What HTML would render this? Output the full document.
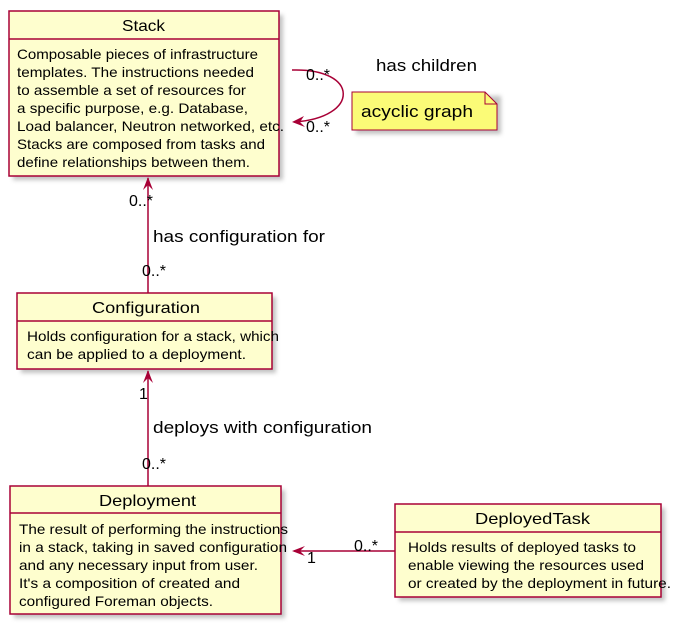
<!DOCTYPE html>
<html><head><meta charset="utf-8"><style>
html,body{margin:0;padding:0;background:#fff;}
svg{display:block;font-family:"Liberation Sans",sans-serif;}
</style></head><body>
<svg width="689" height="631" viewBox="0 0 689 631" xmlns="http://www.w3.org/2000/svg">
<defs>
<filter id="sh" x="-10%" y="-10%" width="130%" height="130%"><feGaussianBlur stdDeviation="2"/></filter>
</defs>
<g fill="#999" opacity="0.6" filter="url(#sh)">
<rect x="13" y="15" width="270" height="165"/>
<rect x="21" y="297" width="255" height="76"/>
<rect x="14" y="490" width="271" height="128"/>
<rect x="399" y="508" width="266" height="93"/>
<rect x="356" y="96" width="145" height="38"/>
</g>
<g fill="#FEFECE" stroke="#A80036" stroke-width="1.5">
<rect x="9" y="11" width="270" height="165"/>
<line x1="9" y1="39" x2="279" y2="39"/>
<rect x="17" y="293" width="255" height="76"/>
<line x1="17" y1="321" x2="272" y2="321"/>
<rect x="10" y="486" width="271" height="128"/>
<line x1="10" y1="513" x2="281" y2="513"/>
<rect x="395" y="504" width="266" height="93"/>
<line x1="395" y1="532" x2="661" y2="532"/>
</g>
<path d="M352,92 L485,92 L497,104 L497,130 L352,130 Z" fill="#FBFB77" stroke="#A80036" stroke-width="1"/>
<path d="M485,92 L485,104 L497,104" fill="none" stroke="#A80036" stroke-width="1"/>
<g fill="none" stroke="#A80036" stroke-width="1.5">
<line x1="148" y1="178" x2="148" y2="293"/>
<line x1="148" y1="371" x2="148" y2="486"/>
<line x1="294" y1="551" x2="395" y2="551"/>
<path d="M292,70 C360,68 360,118 294,122"/>
</g>
<g fill="#A80036">
<path d="M148,177 L143,190 L148,185 L153,190 Z"/>
<path d="M148,370 L143,383 L148,378 L153,383 Z"/>
<path d="M292,551 L305,546 L300,551 L305,556 Z"/>
<path d="M292,122 L304,116 L300,122 L305,127 Z"/>
</g>
<g font-size="16" fill="#000" lengthAdjust="spacingAndGlyphs">
<text x="122" y="31" textLength="43" lengthAdjust="spacingAndGlyphs">Stack</text>
<text x="92" y="313" textLength="108" lengthAdjust="spacingAndGlyphs">Configuration</text>
<text x="99" y="506" textLength="97" lengthAdjust="spacingAndGlyphs">Deployment</text>
<text x="475" y="524" textLength="115" lengthAdjust="spacingAndGlyphs">DeployedTask</text>
</g>
<g font-size="14" fill="#000">
<text x="17" y="59" textLength="241" lengthAdjust="spacingAndGlyphs">Composable pieces of infrastructure</text>
<text x="17" y="77" textLength="237" lengthAdjust="spacingAndGlyphs">templates. The instructions needed</text>
<text x="17" y="95" textLength="229" lengthAdjust="spacingAndGlyphs">to assemble a set of resources for</text>
<text x="17" y="113" textLength="231" lengthAdjust="spacingAndGlyphs">a specific purpose, e.g. Database,</text>
<text x="17" y="131" textLength="267" lengthAdjust="spacingAndGlyphs">Load balancer, Neutron networked, etc.</text>
<text x="17" y="149" textLength="248" lengthAdjust="spacingAndGlyphs">Stacks are composed from tasks and</text>
<text x="17" y="167" textLength="233" lengthAdjust="spacingAndGlyphs">define relationships between them.</text>
<text x="27" y="341" textLength="252" lengthAdjust="spacingAndGlyphs">Holds configuration for a stack, which</text>
<text x="27" y="359" textLength="219" lengthAdjust="spacingAndGlyphs">can be applied to a deployment.</text>
<text x="19" y="534" textLength="269" lengthAdjust="spacingAndGlyphs">The result of performing the instructions</text>
<text x="19" y="552" textLength="268" lengthAdjust="spacingAndGlyphs">in a stack, taking in saved configuration</text>
<text x="19" y="570" textLength="239" lengthAdjust="spacingAndGlyphs">and any necessary input from user.</text>
<text x="19" y="588" textLength="221" lengthAdjust="spacingAndGlyphs">It's a composition of created and</text>
<text x="19" y="606" textLength="194" lengthAdjust="spacingAndGlyphs">configured Foreman objects.</text>
<text x="408" y="552" textLength="228" lengthAdjust="spacingAndGlyphs">Holds results of deployed tasks to</text>
<text x="408" y="570" textLength="236" lengthAdjust="spacingAndGlyphs">enable viewing the resources used</text>
<text x="408" y="588" textLength="263" lengthAdjust="spacingAndGlyphs">or created by the deployment in future.</text>
</g>
<g font-size="17" fill="#000">
<text x="361" y="117" textLength="112" lengthAdjust="spacingAndGlyphs">acyclic graph</text>
<text x="376" y="71" textLength="101" lengthAdjust="spacingAndGlyphs">has children</text>
<text x="153" y="242" textLength="172" lengthAdjust="spacingAndGlyphs">has configuration for</text>
<text x="153" y="433" textLength="219" lengthAdjust="spacingAndGlyphs">deploys with configuration</text>
</g>
<g font-size="16" fill="#000">
<text x="306" y="80">0..*</text>
<text x="306" y="132">0..*</text>
<text x="129" y="206">0..*</text>
<text x="142" y="276">0..*</text>
<text x="139" y="399">1</text>
<text x="142" y="469">0..*</text>
<text x="307" y="563">1</text>
<text x="354" y="551">0..*</text>
</g>
</svg>
</body></html>
